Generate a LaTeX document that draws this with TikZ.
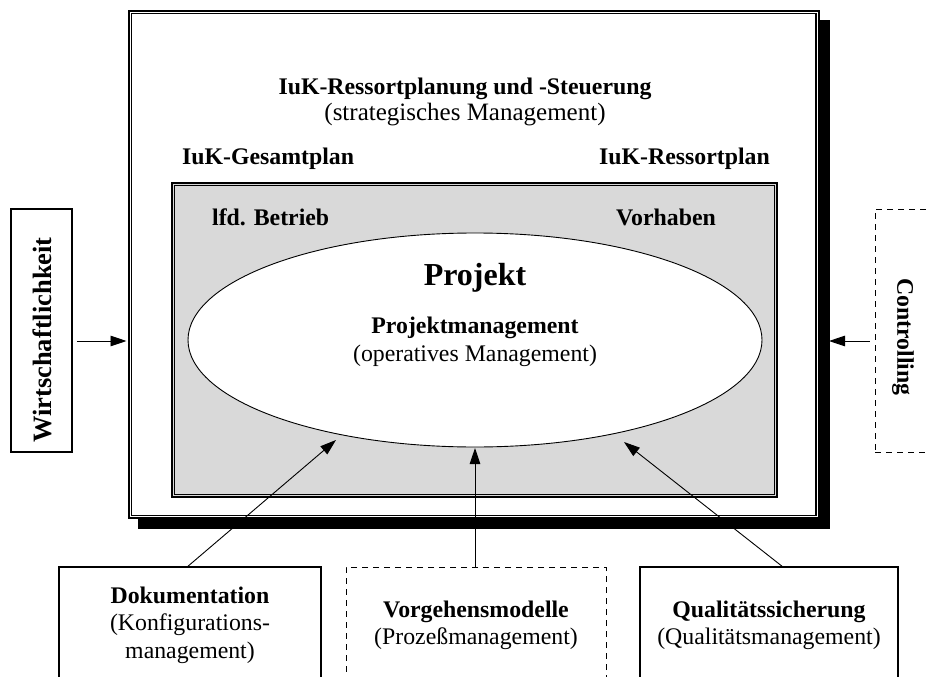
\documentclass[tikz,border=0pt]{standalone}
\usepackage{fontspec}
\setmainfont{Liberation Serif}
\usetikzlibrary{arrows.meta,backgrounds,shapes.geometric}
\begin{document}
\begin{tikzpicture}[x=1pt,y=-1pt,
  lbl/.style={font=\fontsize{23.8}{27.5}\selectfont, inner sep=0pt, anchor=base},
  bold/.style={lbl, font=\fontsize{23.8}{27.5}\selectfont\bfseries},
  frame/.style={draw, line width=2pt, rectangle, inner sep=0pt},
  innerline/.style={line width=1.2pt},
  sidebox/.style={draw, line width=1.6pt, rectangle, inner sep=0pt},
  dashbox/.style={draw, line width=0.9pt, dash pattern=on 6pt off 5pt, rectangle, inner sep=0pt},
  conn/.style={line width=0.9pt, -{Triangle[length=16pt,width=10.5pt]}},
]
\clip (0,0) rectangle (929,677);

% outer frame: planning and steering level, with a solid drop shadow
\node[frame, fill=white, minimum width=690pt, minimum height=507pt] (outer) at (473.5,264.5) {};
\draw[innerline] ([xshift=3.6pt,yshift=-3.6pt]outer.north west) rectangle ([xshift=-3.6pt,yshift=3.6pt]outer.south east);
\begin{scope}[on background layer]
  \fill[black] ([xshift=10pt,yshift=-10pt]outer.south west) rectangle ([xshift=10pt,yshift=-10pt]outer.north east);
\end{scope}

\node[bold] (title) at (465,94) {IuK-Ressortplanung und -Steuerung};
\node[lbl, font=\fontsize{25}{29}\selectfont] (titlesub) at (465,120) {(strategisches Management)};

\node[bold, anchor=base west] (gesamt) at (182,164) {IuK-Gesamtplan};
\node[bold, anchor=base east] (ressort) at (770,164) {IuK-Ressortplan};

% grey area: running operation and plans
\node[frame, fill=gray!30, minimum width=605pt, minimum height=314pt] (inner) at (474.5,340) {};
\draw[innerline] ([xshift=3.6pt,yshift=-3.6pt]inner.north west) rectangle ([xshift=-3.6pt,yshift=3.6pt]inner.south east);
\node[bold, anchor=base west] (betrieb) at (212,225) {lfd. Betrieb};
\node[bold] (vorhaben) at (666,225) {Vorhaben};

% project ellipse
\node[ellipse, draw, line width=0.9pt, fill=white, minimum width=574pt, minimum height=214pt, inner sep=0pt] (proj) at (475,340) {};
\node[lbl, font=\fontsize{32}{36}\selectfont\bfseries] (projtitle) at (475,285) {Projekt};
\node[bold] (pm) at (475,333) {Projektmanagement};
\node[lbl] (pmsub) at (475,361) {(operatives Management)};

% side boxes
\node[sidebox, minimum width=61pt, minimum height=243pt] (wirt) at (41.5,330.5) {};
\node[lbl, font=\fontsize{26.5}{30}\selectfont\bfseries, anchor=center, rotate=90] (wirtlbl) at (42,340) {Wirtschaftlichkeit};
\node[dashbox, minimum width=80pt, minimum height=243pt] (contr) at (915,330.5) {};
\node[lbl, font=\fontsize{23.8}{27.5}\selectfont\bfseries, anchor=center, rotate=-90] (contrlbl) at (903,337) {Controlling};

\draw[conn] ([xshift=4pt]wirt.east |- 0,341) -- ([xshift=-1pt]outer.west |- 0,341);
\draw[conn] ([xshift=-5pt]contr.west |- 0,341) -- (829,341);

% bottom boxes
\node[sidebox, minimum width=262pt, minimum height=140pt] (dok) at (190,637) {};
\node[dashbox, minimum width=260pt, minimum height=140pt] (vorg) at (476,637) {};
\node[sidebox, minimum width=258pt, minimum height=140pt] (qual) at (769,637) {};

\node[lbl] (doklbl) at (190,603) {\begin{tabular}[t]{@{}c@{}}\bfseries Dokumentation\\(Konfigurations-\\management)\end{tabular}};
\node[lbl] (vorglbl) at (476,617) {\begin{tabular}[t]{@{}c@{}}\bfseries Vorgehensmodelle\\(Prozeßmanagement)\end{tabular}};
\node[lbl] (quallbl) at (769,617) {\begin{tabular}[t]{@{}c@{}}\bfseries Qualitätssicherung\\(Qualitätsmanagement)\end{tabular}};

\coordinate (tipl) at (336,440);
\coordinate (tipm) at (475,448);
\coordinate (tipr) at (624,442);
\draw[conn] ([xshift=-2pt]dok.north) -- (tipl);
\draw[conn] ([xshift=-1pt]vorg.north) -- (tipm);
\draw[conn] ([xshift=13pt]qual.north) -- (tipr);
\end{tikzpicture}
\end{document}
